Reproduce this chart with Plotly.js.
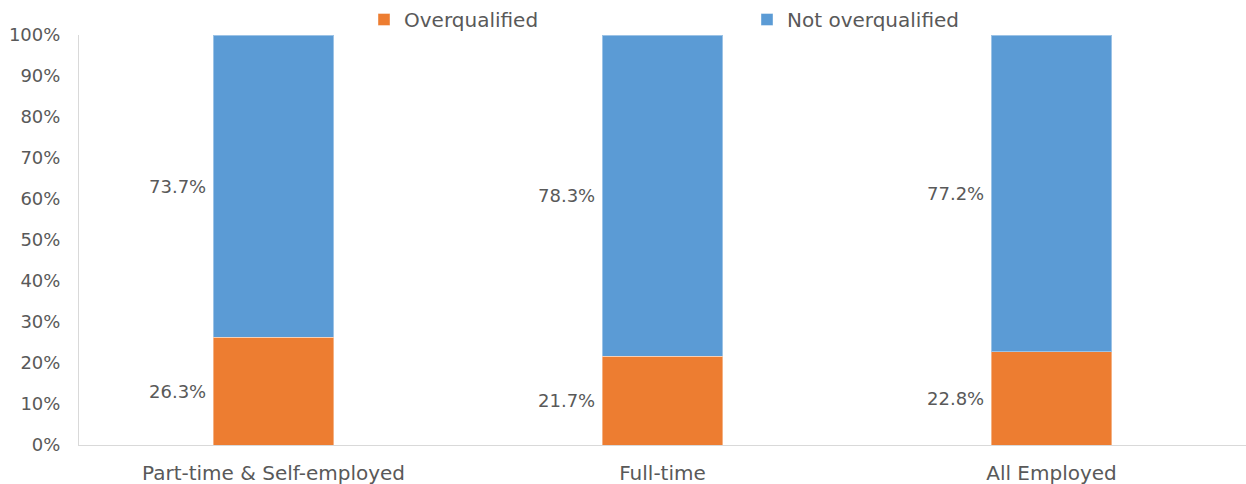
<!DOCTYPE html>
<html>
<head>
<meta charset="utf-8">
<script src="https://cdn.plot.ly/plotly-3.0.1.min.js"></script>
<style>
html,body{margin:0;padding:0;background:#fff;}
#chart{width:1246px;height:484px;}
</style>
</head>
<body>
<div id="chart"></div>
<script>
const categories = ["Part-time & Self-employed", "Full-time", "All Employed"];
const overqualified = [26.3, 21.7, 22.8];
const notOverqualified = [73.7, 78.3, 77.2];
const seriesNames = ["Overqualified", "Not overqualified"];
const colors = ["#ED7D31", "#5B9BD5"];
const textColor = "#595959";
const fontFamily = "'DejaVu Sans', sans-serif";

const traces = [
  {type: "bar", name: seriesNames[0], x: categories, y: overqualified,
   marker: {color: colors[0], line: {color: "rgba(255,255,255,0.4)", width: 1}}, hoverinfo: "skip"},
  {type: "bar", name: seriesNames[1], x: categories, y: notOverqualified,
   marker: {color: colors[1], line: {color: "rgba(255,255,255,0.4)", width: 1}}, hoverinfo: "skip"}
];

const annotations = [];
categories.forEach((c, i) => {
  annotations.push({x: c, y: overqualified[i] / 2, text: overqualified[i].toFixed(1) + "%",
    xanchor: "right", yanchor: "middle", xshift: -66, showarrow: false,
    font: {size: 18, color: textColor, family: fontFamily}});
  annotations.push({x: c, y: overqualified[i] + notOverqualified[i] / 2, text: notOverqualified[i].toFixed(1) + "%",
    xanchor: "right", yanchor: "middle", xshift: -66, showarrow: false,
    font: {size: 18, color: textColor, family: fontFamily}});
});

const layout = {
  width: 1246, height: 484,
  margin: {l: 79, r: 0, t: 35, b: 39, autoexpand: false},
  paper_bgcolor: "#fff", plot_bgcolor: "#fff",
  barmode: "stack",
  bargap: 0.69,
  font: {family: fontFamily, size: 20, color: textColor},
  showlegend: true,
  legend: {orientation: "h", x: 364 / 1246, xanchor: "left", xref: "container",
           y: 1, yanchor: "top", yref: "container", bgcolor: "rgba(0,0,0,0)",
           traceorder: "normal", entrywidth: 338, entrywidthmode: "pixels",
           itemwidth: 30, font: {size: 20, color: textColor, family: fontFamily}},
  xaxis: {type: "category", showgrid: false, zeroline: false, showline: true,
          linecolor: "#D9D9D9", linewidth: 1, ticks: "", ticklabelstandoff: 10,
          tickfont: {size: 20, color: textColor}},
  yaxis: {range: [0, 100], dtick: 10, tick0: 0, ticksuffix: "%", showgrid: false,
          zeroline: false, showline: true, linecolor: "#D9D9D9", linewidth: 1,
          ticks: "", ticklabelstandoff: 14, tickfont: {size: 18, color: textColor}},
  annotations: annotations
};

Plotly.newPlot("chart", traces, layout, {displayModeBar: false, staticPlot: true});
</script>
</body>
</html>
